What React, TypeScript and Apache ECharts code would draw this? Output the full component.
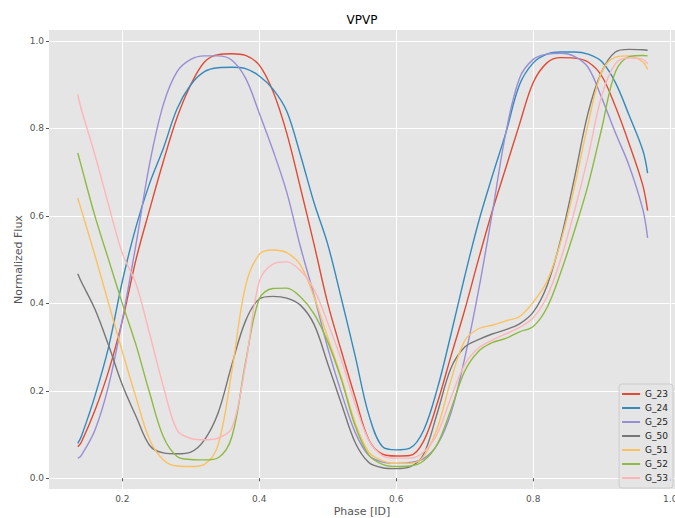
import React, { useEffect, useRef } from "react";
import * as echarts from "echarts";

const TITLE = "VPVP";
const X_NAME = "Phase [ID]";
const Y_NAME = "Normalized Flux";
const X_TICKS = [0.2, 0.4, 0.6, 0.8, 1.0];
const Y_TICKS = [0.0, 0.2, 0.4, 0.6, 0.8, 1.0];

const PHASE = [0.135, 0.14, 0.16, 0.18, 0.2, 0.22, 0.24, 0.26, 0.28, 0.3, 0.32, 0.34, 0.36, 0.38, 0.4, 0.42, 0.44, 0.46, 0.48, 0.5, 0.52, 0.54, 0.56, 0.58, 0.6, 0.62, 0.64, 0.66, 0.68, 0.7, 0.72, 0.74, 0.76, 0.78, 0.8, 0.82, 0.84, 0.86, 0.88, 0.9, 0.92, 0.94, 0.96, 0.967];

const SERIES_NAMES = ["G_23", "G_24", "G_25", "G_50", "G_51", "G_52", "G_53"];
const COLORS = ["#E24A33", "#348ABD", "#988ED5", "#777777", "#FBC15E", "#8EBA42", "#FFB5B8"];

const G_23 = [0.072, 0.082, 0.155, 0.245, 0.36, 0.5, 0.615, 0.725, 0.825, 0.9, 0.952, 0.969, 0.971, 0.967, 0.945, 0.885, 0.79, 0.665, 0.535, 0.4, 0.29, 0.185, 0.088, 0.055, 0.051, 0.052, 0.085, 0.172, 0.28, 0.385, 0.5, 0.61, 0.71, 0.81, 0.905, 0.95, 0.962, 0.961, 0.952, 0.92, 0.85, 0.765, 0.67, 0.612];
const G_24 = [0.08, 0.095, 0.188, 0.3, 0.45, 0.575, 0.675, 0.755, 0.845, 0.9, 0.93, 0.939, 0.94, 0.937, 0.92, 0.89, 0.84, 0.74, 0.63, 0.535, 0.41, 0.28, 0.145, 0.072, 0.065, 0.069, 0.11, 0.205, 0.33, 0.462, 0.585, 0.69, 0.79, 0.9, 0.95, 0.97, 0.975, 0.975, 0.97, 0.953, 0.905, 0.83, 0.75, 0.698];
const G_25 = [0.046, 0.052, 0.11, 0.212, 0.362, 0.535, 0.72, 0.855, 0.93, 0.958, 0.966, 0.966, 0.956, 0.915, 0.835, 0.75, 0.655, 0.53, 0.418, 0.298, 0.195, 0.105, 0.052, 0.037, 0.034, 0.036, 0.045, 0.077, 0.15, 0.275, 0.428, 0.605, 0.79, 0.915, 0.958, 0.97, 0.972, 0.965, 0.94, 0.87, 0.79, 0.715, 0.615, 0.55];
const G_50 = [0.468, 0.45, 0.387, 0.304, 0.214, 0.142, 0.075, 0.058, 0.056, 0.06, 0.088, 0.15, 0.26, 0.36, 0.41, 0.416, 0.412, 0.396, 0.352, 0.262, 0.17, 0.082, 0.036, 0.024, 0.022, 0.026, 0.055, 0.15, 0.252, 0.3, 0.317, 0.33, 0.34, 0.353, 0.38, 0.44, 0.545, 0.685, 0.835, 0.93, 0.975, 0.981, 0.98, 0.979];
const G_51 = [0.641, 0.615, 0.51, 0.4, 0.29, 0.185, 0.088, 0.042, 0.028, 0.027, 0.032, 0.077, 0.245, 0.44, 0.512, 0.522, 0.516, 0.488, 0.415, 0.322, 0.23, 0.127, 0.06, 0.04, 0.034, 0.034, 0.05, 0.115, 0.225, 0.315, 0.342, 0.35, 0.36, 0.37, 0.403, 0.45, 0.54, 0.665, 0.81, 0.93, 0.963, 0.966, 0.952, 0.935];
const G_52 = [0.744, 0.715, 0.6, 0.5, 0.4, 0.305, 0.195, 0.095, 0.05, 0.043, 0.042, 0.047, 0.095, 0.265, 0.41, 0.434, 0.435, 0.415, 0.376, 0.312, 0.225, 0.12, 0.053, 0.032, 0.027, 0.028, 0.04, 0.078, 0.158, 0.245, 0.29, 0.31, 0.32, 0.335, 0.347, 0.39, 0.47, 0.565, 0.67, 0.8, 0.93, 0.964, 0.967, 0.966];
const G_53 = [0.878, 0.845, 0.74, 0.625, 0.515, 0.445, 0.33, 0.21, 0.11, 0.091, 0.088, 0.092, 0.115, 0.26, 0.45, 0.49, 0.495, 0.475, 0.432, 0.355, 0.27, 0.17, 0.087, 0.052, 0.046, 0.046, 0.06, 0.102, 0.185, 0.26, 0.298, 0.316, 0.33, 0.345, 0.367, 0.415, 0.5, 0.61, 0.735, 0.875, 0.948, 0.961, 0.958, 0.948];

const VALUES = [G_23, G_24, G_25, G_50, G_51, G_52, G_53];

const FONT = "DejaVu Sans";

export default function App() {
  const ref = useRef<HTMLDivElement>(null);
  useEffect(() => {
    if (!ref.current) return;
    const chart = echarts.init(ref.current, null, { renderer: "svg" });
    const fmt = (v: number) => v.toFixed(1);
    chart.setOption({
      animation: false,
      backgroundColor: "#ffffff",
      textStyle: { fontFamily: FONT },
      graphic: [
        {
          type: "text",
          x: 362,
          y: 20,
          style: { text: TITLE, align: "center", verticalAlign: "middle", fontSize: 12, fontFamily: FONT, fill: "#000" },
        },
      ],
      grid: {
        left: 49,
        top: 30,
        right: 0,
        bottom: 29,
        show: true,
        backgroundColor: "#E5E5E5",
        borderWidth: 0,
        containLabel: false,
        outerBoundsMode: "none",
      },
      legend: {
        data: SERIES_NAMES,
        orient: "vertical",
        right: 2,
        top: 384,
        padding: [3, 5, 3, 3],
        icon: "rect",
        itemWidth: 18,
        itemHeight: 2,
        itemGap: 0,
        backgroundColor: "rgba(229,229,229,0.8)",
        borderColor: "#cccccc",
        borderWidth: 1,
        borderRadius: 3,
        textStyle: { fontSize: 9, color: "#222", fontFamily: FONT, lineHeight: 14, padding: [0, 0, 0, 0] },
      },
      xAxis: {
        type: "value",
        min: 0.093,
        max: 1.007,
        name: X_NAME,
        nameLocation: "middle",
        nameGap: 17,
        nameMoveOverlap: false,
        nameTextStyle: { fontSize: 11, color: "#555", fontFamily: FONT },
        axisLine: { show: false },
        axisTick: { show: true, length: 3, lineStyle: { color: "#555" }, customValues: X_TICKS },
        axisLabel: { fontSize: 9, color: "#555", margin: 5, formatter: fmt, customValues: X_TICKS, fontFamily: FONT },
        splitLine: { show: true, lineStyle: { color: "#ffffff", width: 1 } },
      },
      yAxis: {
        type: "value",
        min: -0.0245,
        max: 1.0252,
        name: Y_NAME,
        nameLocation: "middle",
        nameGap: 25,
        nameMoveOverlap: false,
        nameTextStyle: { fontSize: 11, color: "#555", fontFamily: FONT },
        axisLine: { show: false },
        axisTick: { show: true, length: 3, lineStyle: { color: "#555" }, customValues: Y_TICKS },
        axisLabel: { fontSize: 9, color: "#555", margin: 5, formatter: fmt, customValues: Y_TICKS, fontFamily: FONT },
        splitLine: { show: true, lineStyle: { color: "#ffffff", width: 1 } },
      },
      series: SERIES_NAMES.map((name, k) => ({
        name,
        type: "line",
        symbol: "none",
        smooth: 0.35,
        color: COLORS[k],
        lineStyle: { width: 1.4, color: COLORS[k] },
        data: PHASE.map((p, i) => [p, VALUES[k][i]]),
      })),
    });
    return () => chart.dispose();
  }, []);
  return <div ref={ref} style={{ width: 675, height: 518, position: "absolute", left: 0, top: 0 }} />;
}
